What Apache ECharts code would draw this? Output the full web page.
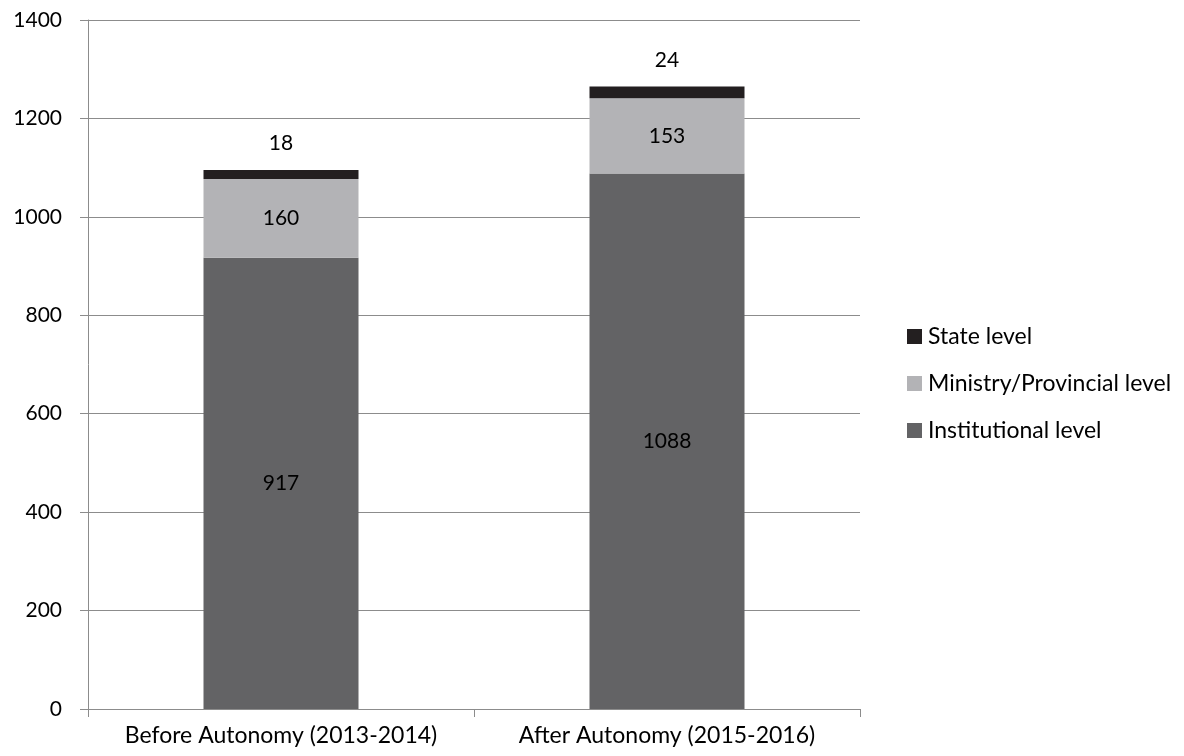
<!DOCTYPE html>
<html>
<head>
<meta charset="utf-8">
<script src="https://cdn.jsdelivr.net/npm/echarts@6/dist/echarts.min.js"></script>
<style>
  html, body { margin: 0; padding: 0; background: #fff; }
  #chart { width: 1184px; height: 756px; }
</style>
</head>
<body>
<div id="chart"></div>
<script>
// Categories and stacked values per level
const categories = ['Before Autonomy (2013-2014)', 'After Autonomy (2015-2016)'];
const institutionalLevel = [917, 1088];
const ministryProvincialLevel = [160, 153];
const stateLevel = [18, 24];
const yTicks = { min: 0, max: 1400, interval: 200 };

const FONT = 'Lato';
const axisGrey = '#8c8c8c';

const chart = echarts.init(document.getElementById('chart'));

const insideLabel = {
  show: true,
  position: 'inside',
  color: '#000',
  fontFamily: FONT,
  fontSize: 21
};

chart.setOption({
  animation: false,
  textStyle: { fontFamily: FONT },
  grid: { left: 88, right: 324, top: 20, bottom: 47 },
  legend: {
    orient: 'vertical',
    left: 902,
    top: 320,
    itemWidth: 15,
    itemHeight: 15,
    itemGap: 24,
    icon: 'rect',
    data: ['State level', 'Ministry/Provincial level', 'Institutional level'],
    textStyle: { color: '#000', fontFamily: FONT, fontSize: 23, padding: [0, 0, 0, 1] }
  },
  xAxis: {
    type: 'category',
    data: categories,
    axisLine: { lineStyle: { color: axisGrey, width: 1 } },
    axisTick: { show: true, length: 8, alignWithLabel: false, lineStyle: { color: axisGrey } },
    axisLabel: { color: '#000', fontFamily: FONT, fontSize: 23, margin: 15, interval: 0, hideOverlap: false }
  },
  yAxis: {
    type: 'value',
    min: yTicks.min,
    max: yTicks.max,
    interval: yTicks.interval,
    axisLine: { show: true, lineStyle: { color: axisGrey, width: 1 } },
    axisTick: { show: true, length: 8, lineStyle: { color: axisGrey } },
    axisLabel: { color: '#000', fontFamily: FONT, fontSize: 21, margin: 26, formatter: v => String(v) },
    splitLine: { lineStyle: { color: axisGrey, width: 1 } }
  },
  series: [
    {
      name: 'Institutional level',
      type: 'bar',
      stack: 'total',
      barWidth: 155,
      data: institutionalLevel,
      itemStyle: { color: '#636365' },
      label: insideLabel
    },
    {
      name: 'Ministry/Provincial level',
      type: 'bar',
      stack: 'total',
      data: ministryProvincialLevel,
      itemStyle: { color: '#b3b3b6' },
      label: insideLabel
    },
    {
      name: 'State level',
      type: 'bar',
      stack: 'total',
      data: stateLevel,
      itemStyle: { color: '#231f20' },
      label: { show: true, position: 'top', distance: 16, color: '#000', fontFamily: FONT, fontSize: 21 }
    }
  ]
});
</script>
</body>
</html>
